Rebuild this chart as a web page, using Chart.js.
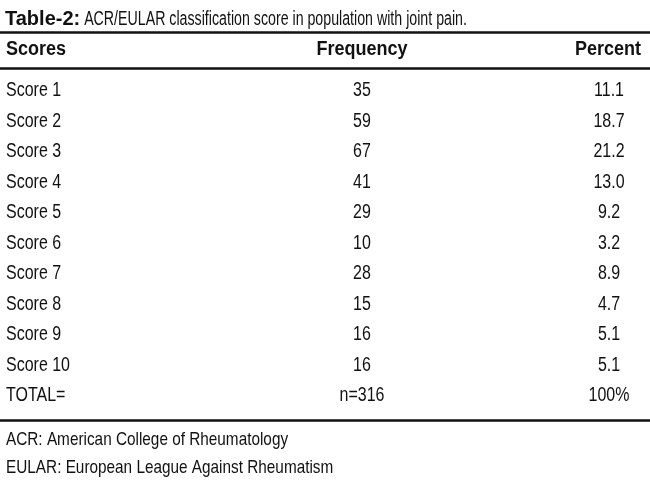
<!DOCTYPE html>
<html>
<head>
<meta charset="utf-8">
<script src="https://cdn.jsdelivr.net/npm/chart.js@4.4.1/dist/chart.umd.min.js"></script>
<style>
  html, body { margin: 0; padding: 0; background: #fff; }
  #wrap { width: 650px; height: 482px; position: relative; }
</style>
</head>
<body>
<div id="wrap"><canvas id="table"></canvas></div>
<script>
const headers = ['Scores', 'Frequency', 'Percent'];
const scores = ['Score 1', 'Score 2', 'Score 3', 'Score 4', 'Score 5', 'Score 6', 'Score 7', 'Score 8', 'Score 9', 'Score 10'];
const frequency = [35, 59, 67, 41, 29, 10, 28, 15, 16, 16];
const percent = ['11.1', '18.7', '21.2', '13.0', '9.2', '3.2', '8.9', '4.7', '5.1', '5.1'];
const totalRow = ['TOTAL=', 'n=316', '100%'];
const titleBold = 'Table-2:';
const titleText = ' ACR/EULAR classification score in population with joint pain.';
const footnotes = ['ACR: American College of Rheumatology', 'EULAR: European League Against Rheumatism'];

// no condensed face installed, so the text is squeezed horizontally
const FONT = "'Liberation Sans', Arial, sans-serif";
const columns = [
    { x: 6, align: 'left' },
    { x: 362, align: 'center' },
    { x: 609, align: 'center' }
];
const headerX = [6, 362, 641];
const headerAlign = ['left', 'center', 'right'];

// rows 1..10 are scores, 11 is the total
const rowLabels = scores.concat([totalRow[0]]);
const freqCol = frequency.map(String).concat([totalRow[1]]);
const pctCol = percent.concat([totalRow[2]]);
const cellColumns = [rowLabels, freqCol, pctCol];

const datasets = cellColumns.map((col, c) => ({
    label: headers[c],
    data: col.map((_, i) => ({ x: columns[c].x, y: i + 1 })),
    texts: col,
    align: columns[c].align,
    pointRadius: 0,
    showLine: false
}));

function drawText(ctx, text, x, y, align, squeeze) {
    const w = ctx.measureText(text).width * squeeze;
    let left = x;
    if (align === 'center') left = x - w / 2;
    if (align === 'right') left = x - w;
    ctx.textAlign = 'left';
    ctx.fillText(text, left, y, w);
    return w;
}

const tablePlugin = {
    id: 'tablePlugin',
    afterDatasetsDraw(chart) {
        const ctx = chart.ctx;
        const xs = chart.scales.x;
        const ys = chart.scales.y;
        ctx.save();
        ctx.fillStyle = '#111';

        // title
        ctx.textBaseline = 'alphabetic';
        ctx.font = 'bold 20px ' + FONT;
        const w = drawText(ctx, titleBold, 5, 25, 'left', 1.0);
        ctx.font = '20px ' + FONT;
        drawText(ctx, titleText, 5 + w, 25, 'left', 0.71);

        // rules
        ctx.strokeStyle = '#111';
        ctx.lineWidth = 2.5;
        [-0.92, 0.26, 11.8].forEach(r => {
            const y = ys.getPixelForValue(r);
            ctx.beginPath();
            ctx.moveTo(xs.left, y);
            ctx.lineTo(xs.right, y);
            ctx.stroke();
        });

        // header
        ctx.textBaseline = 'middle';
        ctx.font = 'bold 20px ' + FONT;
        headers.forEach((h, c) => {
            drawText(ctx, h, xs.getPixelForValue(headerX[c]), ys.getPixelForValue(-0.35), headerAlign[c], 0.9);
        });

        // body cells
        ctx.font = '19.5px ' + FONT;
        chart.data.datasets.forEach((ds, d) => {
            const meta = chart.getDatasetMeta(d);
            meta.data.forEach((pt, i) => {
                drawText(ctx, ds.texts[i], pt.x, pt.y, ds.align, 0.82);
            });
        });

        // footnotes
        ctx.font = '19px ' + FONT;
        footnotes.forEach((f, i) => {
            drawText(ctx, f, 6, ys.getPixelForValue(12.45 + i * 0.9), 'left', 0.807);
        });
        ctx.restore();
    }
};

new Chart(document.getElementById('table'), {
    type: 'scatter',
    data: { datasets: datasets },
    options: {
        responsive: true,
        maintainAspectRatio: false,
        animation: false,
        layout: { padding: 0 },
        plugins: {
            legend: { display: false },
            tooltip: { enabled: false }
        },
        scales: {
            x: { type: 'linear', min: 0, max: 650, display: false },
            y: { type: 'linear', reverse: true, min: -60.5 / 30.5, max: (482 - 60.5) / 30.5, display: false }
        }
    },
    plugins: [tablePlugin]
});
</script>
</body>
</html>
